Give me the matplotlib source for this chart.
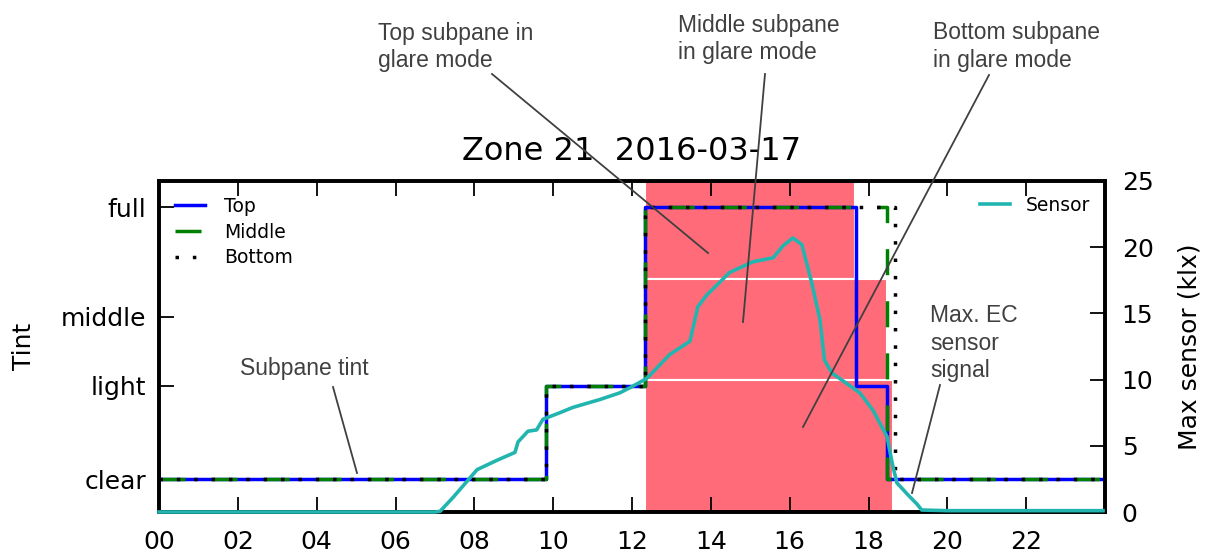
import matplotlib
matplotlib.use("Agg")
import matplotlib.pyplot as plt
from matplotlib.lines import Line2D

# ---------------- data ----------------
tint_levels = ["clear", "light", "middle", "full"]
tint_pos = [2.47, 9.52, 14.75, 23.0]
tint_map = dict(zip(tint_levels, tint_pos))

top_t = [0, 9.82, 12.33, 17.68, 18.47, 23.95]
top_tint = ["clear", "light", "full", "light", "clear", "clear"]
middle_t = [0, 9.82, 12.33, 18.47, 23.95]
middle_tint = ["clear", "light", "full", "clear", "clear"]
bottom_t = [0, 9.82, 12.33, 18.67, 23.95]
bottom_tint = ["clear", "light", "full", "clear", "clear"]

sensor_t = [0, 7.0, 7.13, 7.46, 8.07, 8.57, 9.03, 9.11, 9.36, 9.58, 9.74,
            10.17, 10.5, 11.19, 11.69, 12.02, 12.38, 12.96, 13.47, 13.67,
            13.9, 14.48, 15.07, 15.58, 15.83, 16.08, 16.31, 16.56, 16.77,
            16.88, 17.07, 17.78, 18.11, 18.47, 18.6, 18.72, 19.0, 19.23,
            19.35, 20.0, 22.0, 23.95]
sensor_klx = [0, 0, 0.05, 1.1, 3.2, 3.9, 4.5, 5.3, 6.1, 6.2, 7.0,
              7.5, 7.9, 8.5, 9.0, 9.5, 10.1, 11.9, 12.9, 15.5,
              16.4, 18.1, 18.9, 19.2, 20.1, 20.7, 20.2, 17.3, 14.5,
              11.5, 10.5, 9.0, 7.7, 5.7, 3.7, 2.2, 1.3, 0.6,
              0.15, 0.1, 0.1, 0.1]

glare_names = ["top", "middle", "bottom"]
glare_start = [12.33, 12.33, 12.33]
glare_end = [17.66, 18.47, 18.62]
glare_band = [(0.704, 1.0), (0.399, 0.704), (0.0, 0.399)]

xticks = list(range(0, 24, 2))
xticklabels = ["%02d" % h for h in xticks]
sensor_ticks = [0, 5, 10, 15, 20, 25]

# ---------------- figure ----------------
W, H = 1209, 555
fig = plt.figure(figsize=(W / 100, H / 100), dpi=100)
ax = fig.add_axes([159 / W, 1 - 512 / H, (1105 - 159) / W, (512 - 181) / H])
ax2 = ax.twinx()

pink = "#ff6b78"
for s, e, (b0, b1) in zip(glare_start, glare_end, glare_band):
    ax.axvspan(s, e, ymin=b0, ymax=b1, facecolor=pink, edgecolor="white",
               linewidth=1.5, zorder=0)

ax.plot(top_t, [tint_map[v] for v in top_tint], drawstyle="steps-post",
        color="blue", lw=2.5, label="Top", zorder=2)
ax.plot(middle_t, [tint_map[v] for v in middle_tint], drawstyle="steps-post",
        color="green", lw=2.5, linestyle=(0, (7.5, 7.5)), label="Middle", zorder=3)
ax.plot(bottom_t, [tint_map[v] for v in bottom_tint], drawstyle="steps-post",
        color="black", lw=2.5, linestyle=(0, (1, 4)), label="Bottom", zorder=4)

ax2.plot(sensor_t, sensor_klx, color="#22b5b0", lw=2.6, label="Sensor",
         clip_on=False, zorder=3)

ax.set_xlim(0, 24)
ax.set_ylim(0, 25)
ax2.set_ylim(0, 25)
ax.set_xticks(xticks)
ax.set_xticklabels(xticklabels)
ax.set_yticks(tint_pos)
ax.set_yticklabels(tint_levels)
ax2.set_yticks(sensor_ticks)

for a in (ax, ax2):
    for sp in a.spines.values():
        sp.set_linewidth(2.6)
ax.tick_params(axis="x", direction="in", length=11, width=1.3, top=True,
               labelsize=18, pad=13)
ax.tick_params(axis="y", direction="in", length=11, width=1.3, right=False,
               labelsize=18, pad=9)
ax2.tick_params(axis="y", direction="in", length=11, width=1.3,
                labelsize=18, pad=12)

ax.set_ylabel("Tint", fontsize=18)
ax.yaxis.set_label_coords(-0.130, 0.5)
ax2.set_ylabel("Max sensor (klx)", fontsize=18)
ax2.yaxis.set_label_coords(1.077, 0.5)

ax.set_title("Zone 21  2016-03-17", fontsize=23, pad=15)

ax.legend(loc="upper left", frameon=False, fontsize=13.5, handlelength=1.6,
          borderaxespad=0.45, labelspacing=0.36, handletextpad=1.0)
ax2.legend(loc="upper right", frameon=False, fontsize=13.5, handlelength=1.6,
           borderaxespad=0.4, handletextpad=0.85)

# ---------------- annotations ----------------
acol = "#404040"
afont = dict(family=["Liberation Sans", "DejaVu Sans"], fontsize=16.5, color=acol)


def ftext(x, y, s):
    fig.text(x / W, 1 - y / H, s, ha="left", va="top", linespacing=1.25, **afont)


def fline(x0, y0, x1, y1):
    fig.add_artist(Line2D([x0 / W, x1 / W], [1 - y0 / H, 1 - y1 / H],
                          transform=fig.transFigure, color=acol, lw=1.3))


ftext(378, 22, "Top subpane in\nglare mode")
ftext(678, 14, "Middle subpane\nin glare mode")
ftext(933, 21, "Bottom subpane\nin glare mode")
ftext(240, 357, "Subpane tint")
ftext(930, 304, "Max. EC\nsensor\nsignal")

fline(492, 74, 708, 253)
fline(765, 74, 743, 322)
fline(989, 75, 803, 427)
fline(333, 387, 357, 473)
fline(940, 385, 912, 493)

fig.savefig("out.png", dpi=100)
